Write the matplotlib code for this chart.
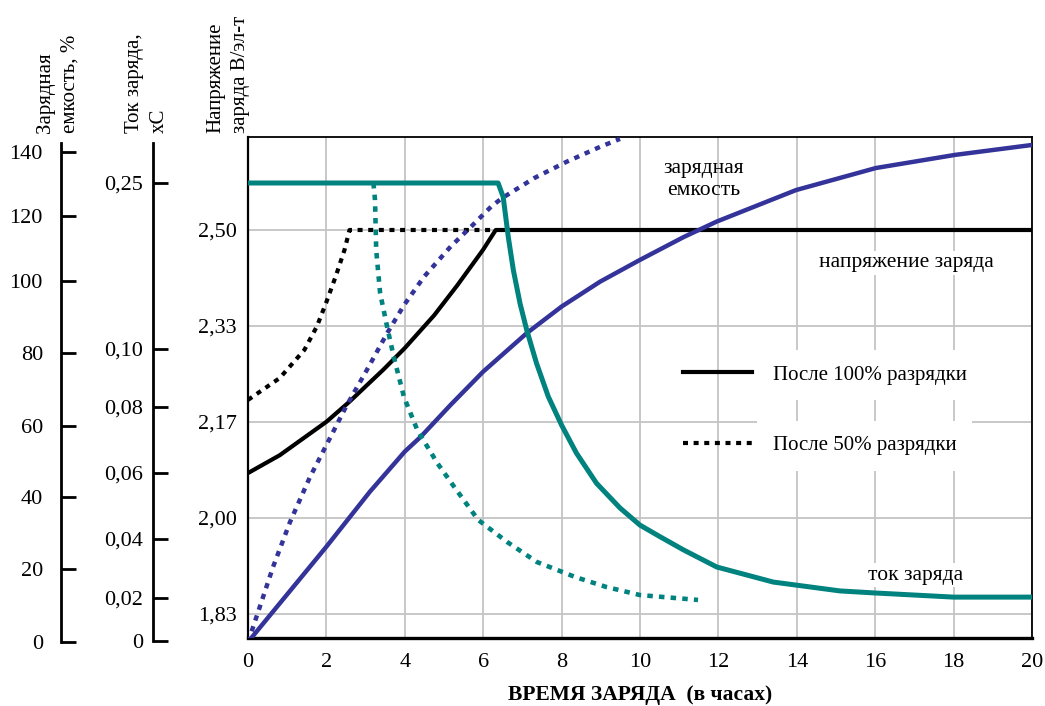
import numpy as np
import matplotlib
matplotlib.use("Agg")
import matplotlib.pyplot as plt

plt.rcParams['font.family'] = ['Liberation Serif', 'DejaVu Serif']

# --- данные ---
# напряжение заряда (В/эл-т)
volt100_h = [0, 0.81, 2.0, 2.59, 3.46, 4.0, 4.75, 5.34, 6.0, 6.32, 20]
volt100_v = [2.078, 2.109, 2.167, 2.202, 2.258, 2.295, 2.352, 2.404, 2.466, 2.50, 2.50]
volt50_h = [0, 0.81, 1.44, 1.76, 2.0, 2.24, 2.46, 2.59, 6.3]
volt50_v = [2.205, 2.243, 2.292, 2.333, 2.375, 2.42, 2.465, 2.50, 2.50]

# ток заряда (xC)
cur100_h = [0, 6.38, 6.51, 6.64, 6.77, 6.94, 7.11, 7.36, 7.66, 8.0, 8.38, 8.89,
            9.49, 10.0, 10.51, 11.11, 11.96, 13.4, 15.1, 16.0, 18.0, 20.0]
cur100_i = [0.25, 0.25, 0.2374, 0.2012, 0.1711, 0.1411, 0.1172, 0.0951, 0.0836,
            0.0745, 0.066, 0.0569, 0.0494, 0.0442, 0.0407, 0.0363, 0.0305, 0.0254,
            0.0224, 0.0217, 0.0203, 0.0203]
cur50_h = [3.2, 3.24, 3.27, 3.37, 3.55, 3.72, 3.98, 4.32, 4.83, 5.26, 5.87, 6.61,
           7.37, 8.35, 9.15, 10.0, 11.48]
cur50_i = [0.25, 0.2346, 0.1895, 0.1506, 0.1199, 0.0972, 0.0834, 0.073, 0.063,
           0.0558, 0.0458, 0.039, 0.0322, 0.0271, 0.0237, 0.021, 0.0191]

# зарядная емкость (%)
cap100_h = [0, 2.0, 3.11, 4.0, 4.41, 5.17, 6.0, 7.11, 8.0, 8.98, 10.0, 11.11,
            11.96, 13.98, 16.02, 18.04, 20.0]
cap100_c = [0, 26.2, 41.5, 52.8, 57.0, 65.8, 74.9, 85.5, 92.9, 99.8, 106.5, 113.5,
            118.3, 128.1, 135.0, 139.1, 142.2]
cap50_h = [0, 0.13, 0.64, 1.07, 1.58, 1.98, 2.50, 3.03, 3.55, 3.98, 4.49, 5.17,
           5.69, 6.20, 6.47, 7.31, 8.12, 8.98, 9.49]
cap50_c = [0, 4.1, 20.6, 33.0, 45.6, 54.2, 65.3, 75.3, 85.5, 93.3, 101.3, 110.6,
           116.7, 122.9, 125.5, 131.9, 136.9, 141.6, 144.1]

hour_ticks = list(range(0, 21, 2))
volt_ticks = [1.8333, 2.0, 2.1667, 2.3333, 2.5]
volt_labels = ['1,83', '2,00', '2,17', '2,33', '2,50']
cap_ticks = [0, 20, 40, 60, 80, 100, 120, 140]
cap_labels = ['0', '20', '40', '60', '80', '100', '120', '140']
cur_ticks = [0, 0.02, 0.04, 0.06, 0.08, 0.10, 0.25]
cur_labels = ['0', '0,02', '0,04', '0,06', '0,08', '0,10', '0,25']

# шкалы тока и емкости на оригинале неравномерные: положения делений (px сверху)
H = 706
W = 1045
cap_tick_px = [642, 569, 497, 426, 353, 281, 216, 152]
cur_tick_px = [641, 598, 539, 473, 407, 349, 183]

TEAL = '#00827f'
BLUE = '#333399'
GRID = '#c4c4c4'
DOT = (0, (1.2, 1.35))


def make_scale(vals, px):
    vals = np.asarray(vals, float)
    pos = H - np.asarray(px, float)

    def lin(x, xs, ys):
        x = np.asarray(x, float)
        out = np.interp(x, xs, ys)
        out = np.where(x < xs[0], ys[0] + (x - xs[0]) * (ys[1] - ys[0]) / (xs[1] - xs[0]), out)
        out = np.where(x > xs[-1], ys[-1] + (x - xs[-1]) * (ys[-1] - ys[-2]) / (xs[-1] - xs[-2]), out)
        return out

    return (lambda v: lin(v, vals, pos)), (lambda p: lin(p, pos, vals))


fig = plt.figure(figsize=(10.45, 7.06), dpi=100)
ax_l, ax_r, ax_t, ax_b = 248, 1032, 137, 638
ax = fig.add_axes([ax_l / W, (H - ax_b) / H, (ax_r - ax_l) / W, (ax_b - ax_t) / H])

# напряжение
ax.set_xlim(0, 20)
ax.set_ylim(1.8333 - 24 / 576, 2.5 + 93 / 576)
ax.set_xticks(hour_ticks)
ax.set_yticks(volt_ticks)
ax.set_yticklabels(volt_labels)
ax.grid(True, color=GRID, lw=1.3)
ax.set_axisbelow(True)
ax.tick_params(length=0, labelsize=16)
ax.tick_params(axis='x', pad=11)
ax.tick_params(axis='y', pad=8)
for s in ['top', 'right']:
    ax.spines[s].set_linewidth(1.3)
ax.spines['left'].set_linewidth(1.6)
ax.spines['bottom'].set_linewidth(2.4)
ax.set_xlabel('ВРЕМЯ ЗАРЯДА  (в часах)', fontsize=15.5, fontweight='bold', labelpad=9)

ax.plot(volt100_h, volt100_v, color='black', lw=3.0, label='После 100% разрядки')
ax.plot(volt50_h, volt50_v, color='black', lw=3.0, ls=DOT, label='После 50% разрядки')

# емкость
cap_fwd, cap_inv = make_scale(cap_ticks, cap_tick_px)
ax_cap = ax.twinx()
ax_cap.set_yscale('function', functions=(cap_fwd, cap_inv))
ax_cap.set_ylim(float(cap_inv(H - ax_b)), float(cap_inv(H - ax_t)))
ax_cap.axis('off')
ax_cap.plot(cap100_h, cap100_c, color=BLUE, lw=3.2)
ax_cap.plot(cap50_h, cap50_c, color=BLUE, lw=3.2, ls=DOT)

# ток
cur_fwd, cur_inv = make_scale(cur_ticks, cur_tick_px)
ax_cur = ax.twinx()
ax_cur.set_yscale('function', functions=(cur_fwd, cur_inv))
ax_cur.set_ylim(float(cur_inv(H - ax_b)), float(cur_inv(H - ax_t)))
ax_cur.axis('off')
ax_cur.plot(cur100_h, cur100_i, color=TEAL, lw=3.6)
ax_cur.plot(cur50_h, cur50_i, color=TEAL, lw=3.3, ls=DOT)


# левые шкалы
def side_axis(x_px, top_px, bot_px, fwd, inv, ticks, labels, pad):
    a = fig.add_axes([x_px / W, (H - bot_px) / H, 0.001, (bot_px - top_px) / H])
    a.set_yscale('function', functions=(fwd, inv))
    a.set_ylim(float(inv(H - bot_px)), float(inv(H - top_px)))
    a.set_yticks(ticks)
    a.set_yticklabels(labels)
    a.patch.set_visible(False)
    for s in ['top', 'right', 'bottom']:
        a.spines[s].set_visible(False)
    a.spines['left'].set_linewidth(2.0)
    a.set_xticks([])
    a.tick_params(axis='y', direction='in', length=11, width=2.0, labelsize=16, pad=pad)
    return a


side_axis(61, 143, 642, cap_fwd, cap_inv, cap_ticks, cap_labels, 13)
side_axis(153, 143, 641, cur_fwd, cur_inv, cur_ticks, cur_labels, 7)

# заголовки шкал
head = dict(rotation=90, fontsize=15, ha='center', va='bottom', multialignment='left',
            linespacing=1.4)
fig.text(58 / W, (H - 133) / H, 'Зарядная\nемкость, %', **head)
fig.text(147 / W, (H - 133) / H, 'Ток заряда,\nxC', **head)
fig.text(228 / W, (H - 133) / H, 'Напряжение\nзаряда В/эл-т', **head)

# подписи кривых
white = dict(facecolor='white', edgecolor='none', pad=2)
ax.text(11.63, 2.587, 'зарядная\nемкость', fontsize=15.5, ha='center', va='center',
        linespacing=1.2)
ax.text(16.79, 2.443, 'напряжение заряда', fontsize=15.5, ha='center', va='center', bbox=white)
ax.text(17.02, 1.901, 'ток заряда', fontsize=15.5, ha='center', va='center', bbox=white)

leg = ax.legend(loc='center left', bbox_to_anchor=(0.555, 0.455), frameon=False,
                fontsize=15, handlelength=3.3, handletextpad=1.0, labelspacing=2.45,
                borderpad=0, borderaxespad=0)
for t in leg.get_texts():
    t.set_bbox(dict(facecolor='white', edgecolor='none', boxstyle='square,pad=0.75'))

fig.savefig('out.png', dpi=100)
